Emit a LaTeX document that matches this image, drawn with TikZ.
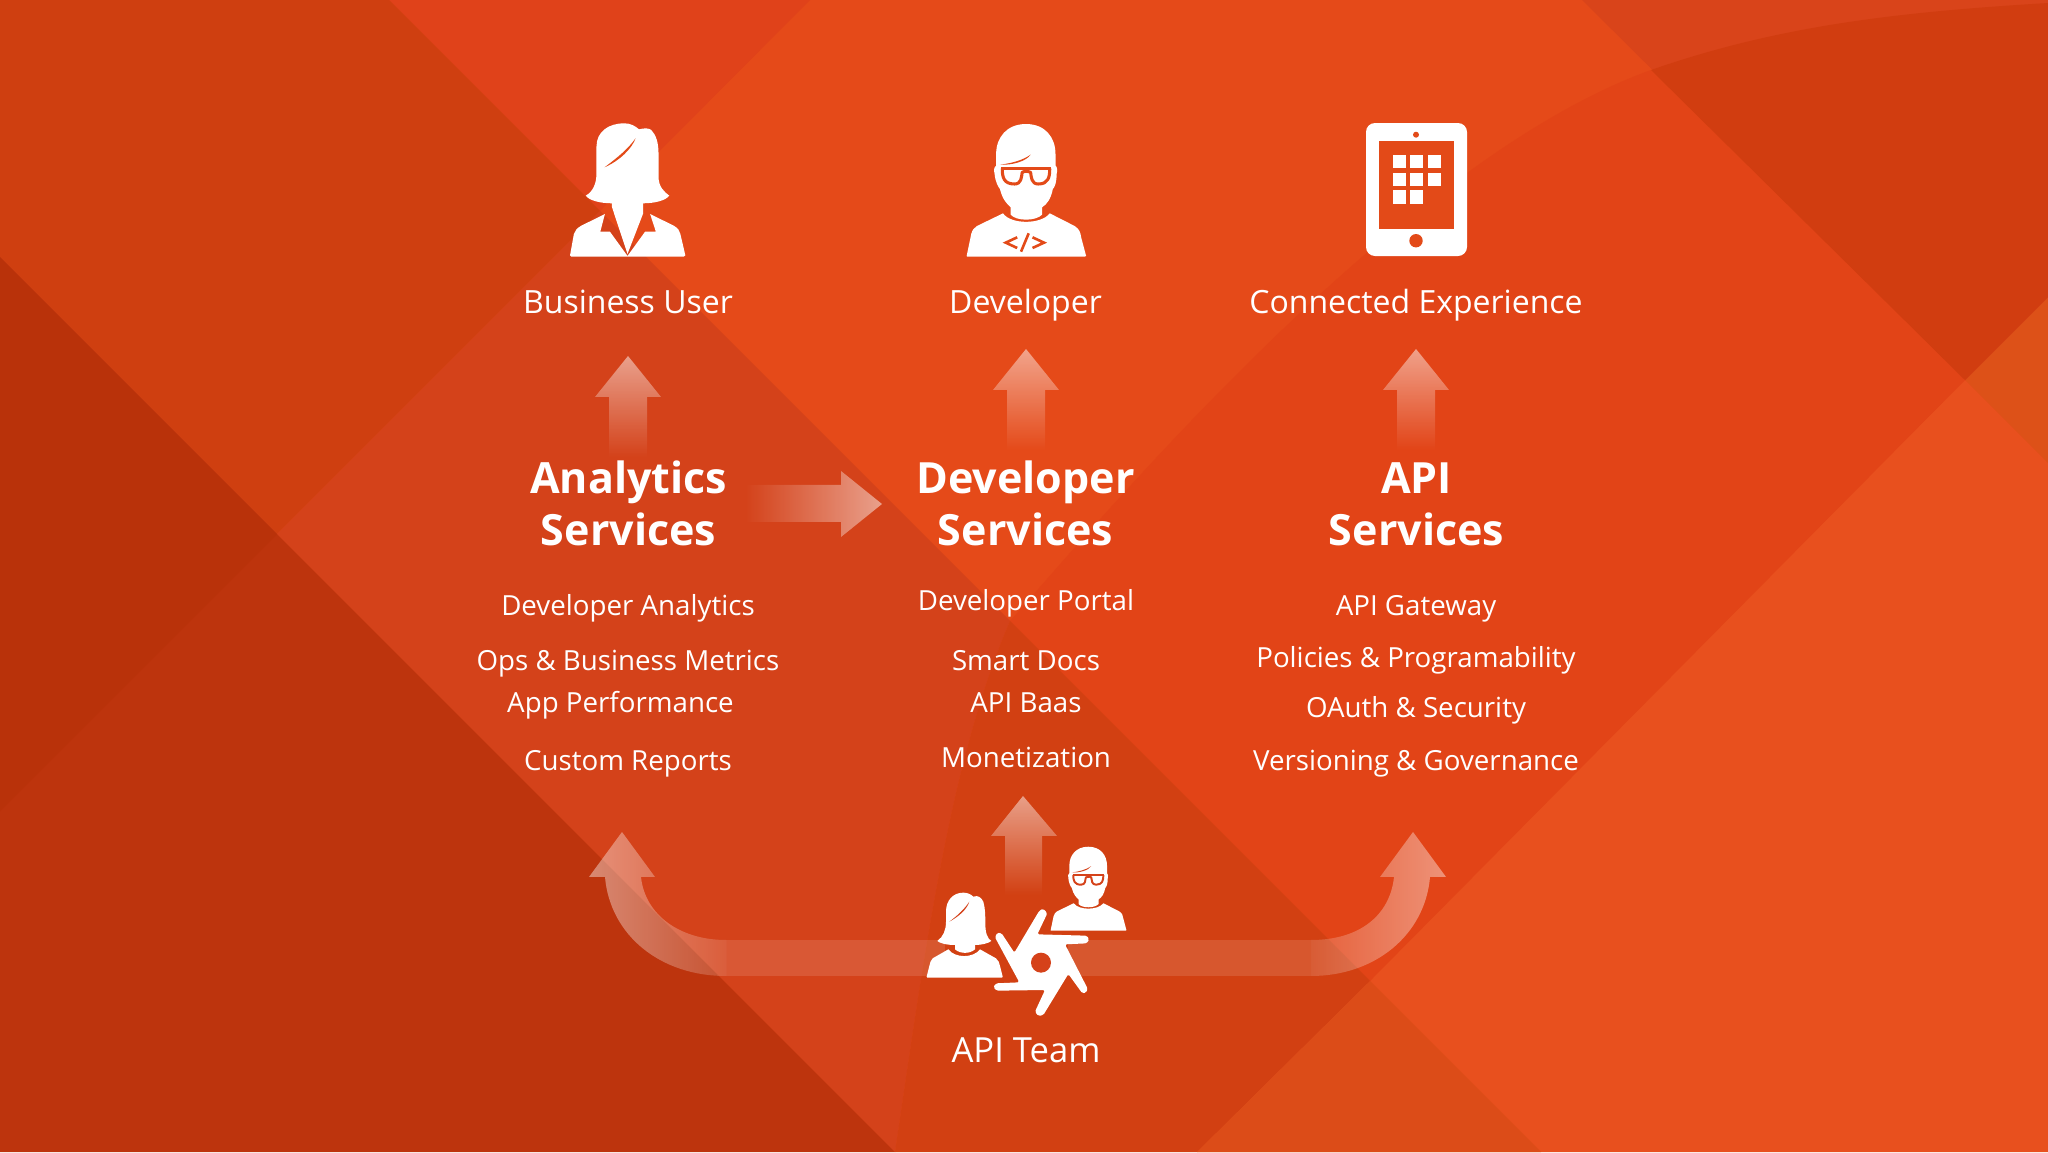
\documentclass[tikz,border=0pt]{standalone}
\usepackage{fontspec}
\setmainfont{Open Sans}
\usetikzlibrary{fadings}
\tikzfading[name=fadeUp, bottom color=transparent!100, top color=transparent!50]
\tikzfading[name=fadeRight, left color=transparent!100, right color=transparent!50]
\tikzfading[name=curveL, left color=transparent!58, right color=transparent!85]
\tikzfading[name=curveR, left color=transparent!85, right color=transparent!58]
\definecolor{baseO}{HTML}{E54A19}
\definecolor{baseL}{HTML}{E8501E}
\definecolor{iconO}{HTML}{E34A18}
\definecolor{iconD}{HTML}{D5421A}
\definecolor{bgA}{HTML}{E0421A}
\definecolor{bgB}{HTML}{E24417}
\definecolor{bgC}{HTML}{CF3F10}
\definecolor{bgD}{HTML}{D4421A}
\definecolor{bgE}{HTML}{BD340D}
\definecolor{bgK}{HTML}{B9320A}
\definecolor{bgF}{HTML}{D24012}
\definecolor{bgG}{HTML}{DC4C18}
\definecolor{bgH}{HTML}{DD5118}
\definecolor{bgI}{HTML}{D9441A}
\definecolor{bgJ}{HTML}{D13D10}
\tikzset{
  bgp/.style={fill=#1,draw=none},
  lbl/.style={text=white,anchor=base,font=\fontsize{32}{38}\selectfont,inner sep=0pt},
  item/.style={text=white,anchor=base,font=\fontsize{27.7}{33}\selectfont,inner sep=0pt},
  ttl/.style={text=white,anchor=base,font=\fontsize{43}{50}\selectfont\bfseries,inner sep=0pt},
  arr/.style={fill=white,draw=none,path fading=#1},
  band/.style={fill=white,fill opacity=.12,draw=none},
}
% upward arrow: #1 centre x, #2 tip y
\newcommand{\uparr}[2]{\fill[arr=fadeUp] (#1,#2) -- (#1+33,#2+41) -- (#1+19,#2+41) -- (#1+19,#2+101) -- (#1-19,#2+101) -- (#1-19,#2+41) -- (#1-33,#2+41) -- cycle;}
% man head + body. #1,#2 origin (top centre); #3 xscale, #4 yscale, #5 cut colour
\newcommand{\manicon}[5]{%
\begin{scope}[shift={(#1,#2)},x=#3pt,y=-#4pt]
 \fill[white] (-60,268) .. controls (-40,302) and (40,302) .. (62,268) -- (127,306) .. controls (140,316) and (142,325) .. (144,340) -- (157,396) .. controls (157,398) and (155,398) .. (153,398) -- (-153,398) .. controls (-155,398) and (-155,396) .. (-155,396) -- (-143,330) .. controls (-140,316) and (-135,312) .. (-128,306) -- cycle;
 \fill[white] (0,0) .. controls (-50,0) and (-78,40) .. (-78,90) -- (-78,125) .. controls (-84,128) and (-84,140) .. (-82,150) .. controls (-80,175) and (-72,190) .. (-68,195) .. controls (-62,225) and (-50,240) .. (-40,250) -- (-40,272) .. controls (-25,292) and (25,292) .. (42,272) -- (42,250) .. controls (55,240) and (65,225) .. (70,195) .. controls (75,190) and (80,175) .. (80,150) .. controls (82,140) and (82,128) .. (77,125) -- (77,90) .. controls (77,40) and (50,0) .. (0,0) -- cycle;
 \fill[#5] (-68,122) .. controls (-40,118) and (-10,110) .. (12,92) .. controls (0,112) and (-35,124) .. (-68,122) -- cycle;
 \draw[#5,line width=#3*9pt,line join=round] (-65,134) -- (65,134);
 \draw[#5,line width=#3*8pt,line join=round] (-62,134) .. controls (-62,160) and (-58,180) .. (-30,180) .. controls (-12,180) and (-12,160) .. (-10,145) .. controls (0,137) and (10,145) .. (12,145) .. controls (14,160) and (14,180) .. (32,180) .. controls (58,180) and (62,160) .. (62,134);
\end{scope}}
% big woman
\newcommand{\bigwoman}[2]{%
\begin{scope}[shift={(#1,#2)},x=.383pt,y=-.3333pt]
 \fill[white] (-41,250) -- (-41,240) .. controls (-70,240) and (-100,232) .. (-109,217) .. controls (-90,205) and (-81,180) .. (-81,150) -- (-81,70) .. controls (-81,25) and (-50,0) .. (-8,0) .. controls (8,0) and (20,8) .. (30,18) .. controls (45,14) and (55,14) .. (62,20) .. controls (75,35) and (81,60) .. (81,90) -- (81,160) .. controls (81,190) and (95,205) .. (109,217) .. controls (100,232) and (70,240) .. (41,240) -- (41,270) -- (0,392) -- cycle;
 \fill[iconO] (21,45) .. controls (12,75) and (-20,112) .. (-60,132) .. controls (-25,102) and (3,75) .. (21,45) -- cycle;
 \fill[white] (-59,272) -- (-71,325) -- (-46,325) -- (0,398) -- (46,325) -- (74,325) -- (59,272) -- (122,308) .. controls (132,315) and (136,322) .. (138,332) -- (151,396) .. controls (151,399) and (149,400) .. (147,400) -- (-147,400) .. controls (-149,400) and (-150,399) .. (-150,396) -- (-140,332) .. controls (-137,322) and (-132,315) .. (-122,308) -- cycle;
\end{scope}}
% small woman in zoom units, origin (880,780)
\newcommand{\smallwoman}{%
\begin{scope}[shift={(880,780)},x=.3333pt,y=-.3333pt]
 \fill[white] (205,508) .. controls (225,535) and (280,535) .. (300,508) -- (348,535) .. controls (356,542) and (358,548) .. (360,558) -- (368,590) -- (366,593) -- (142,593) -- (140,590) -- (148,558) .. controls (150,548) and (152,542) .. (158,535) -- cycle;
 \fill[white] (225,495) .. controls (200,495) and (180,490) .. (172,483) .. controls (190,470) and (198,450) .. (198,425) -- (198,395) .. controls (198,360) and (220,338) .. (250,338) .. controls (262,338) and (272,342) .. (280,350) .. controls (295,345) and (303,352) .. (310,365) .. controls (316,385) and (316,410) .. (316,430) .. controls (316,460) and (322,475) .. (334,483) .. controls (325,490) and (305,495) .. (285,495) -- (285,508) .. controls (270,522) and (240,522) .. (225,508) -- cycle;
 \fill[iconD] (268,365) .. controls (260,390) and (235,410) .. (208,425) .. controls (235,405) and (255,385) .. (268,365) -- cycle;
\end{scope}}
\begin{document}
\begin{tikzpicture}[x=1pt,y=-1pt]
\useasboundingbox (0,0) rectangle (2048,1152);
% ---------- background
\fill[bgp=baseO] (0,0) rectangle (2048,1152);
\fill[bgp=baseL] (2048,463) -- (1965,380) -- (1197,1152) -- (2048,1152) -- cycle;
% top triangle
\fill[bgp=bgA] (389,0) -- (810,0) -- (600,211) -- cycle;
% right-centre region
\fill[bgp=bgB] (1651,70) .. controls (1400,160) and (1100,520) .. (1010,621) -- (1370,981) -- (1965,380) -- cycle;
% left band
\fill[bgp=bgC] (0,0) -- (389,0) -- (600,211) -- (0,811) -- cycle;
\fill[bgp=bgD] (600,211) -- (1010,621) .. controls (950,760) and (925,950) .. (895,1152) -- (0,257) -- (0,811) -- cycle;
% bottom-left dark
\fill[bgp=bgE] (0,257) -- (895,1152) -- (0,1152) -- cycle;
\fill[bgp=bgK] (0,257) -- (277,534) -- (0,811) -- cycle;
% centre dark
\fill[bgp=bgF] (1010,621) -- (1370,981) -- (1197,1152) -- (895,1152) .. controls (925,950) and (950,760) .. (1010,621) -- cycle;
% lower right facets
\fill[bgp=bgG] (1197,1152) -- (1370,981) -- (1541,1152) -- cycle;
\fill[bgp=bgH] (1965,380) -- (2048,297) -- (2048,463) -- cycle;
% top right
\fill[bgp=bgI] (1582,0) -- (2048,0) -- (2048,297) -- (1965,380) -- cycle;
\fill[bgp=bgJ] (1651,70) .. controls (1780,25) and (1900,12) .. (2048,3) -- (2048,297) -- (1965,380) -- cycle;
% ---------- arrows
\uparr{628}{356}
\uparr{1026}{349}
\uparr{1416}{349}
\fill[arr=fadeUp] (1023,796) -- (1057,836) -- (1042,836) -- (1042,895) -- (1005,895) -- (1005,836) -- (991,836) -- cycle;
\fill[arr=fadeRight] (882,504) -- (841,537) -- (841,522) -- (745,522) -- (745,485) -- (841,485) -- (841,471) -- cycle;
% curved left
\fill[arr=curveL] (622,832) -- (655,877) -- (641,877) .. controls (645,915) and (680,940) .. (726,940) -- (726,976) .. controls (660,976) and (610,935) .. (605,877) -- (589,877) -- cycle;
\fill[band] (726,940) rectangle (945,976);
% curved right
\fill[arr=curveR] (1413,832) -- (1446,877) -- (1430,877) .. controls (1425,935) and (1375,976) .. (1311,976) -- (1311,940) .. controls (1360,940) and (1390,915) .. (1394,877) -- (1380,877) -- cycle;
\fill[band] (1068,940) rectangle (1311,976);
% ---------- icons
\bigwoman{627.5}{123.3}
\manicon{1026}{124}{.383}{.3333}{iconO}
% tablet
\fill[white,rounded corners=9pt] (1366,123) rectangle (1467,256);
\fill[iconO] (1379,141.3) rectangle (1454,229.3);
\fill[iconO] (1416,134.7) circle (3);
\fill[iconO] (1416,240.7) circle (6.7);
\foreach \gx/\gy in {1392.5/155,1410/155,1427.7/155,1392.5/172.7,1410/172.7,1427.7/172.7,1392.5/190.3,1410/190.3}
  \fill[white] (\gx,\gy) rectangle ++(13.3,13.3);
% code symbol
\begin{scope}[shift={(1026,124)},x=.383pt,y=-.3333pt]
\draw[iconO,line width=2.6pt] (-23,340) -- (-53,356) -- (-23,372);
\draw[iconO,line width=2.6pt] (7,328) -- (-13,383);
\draw[iconO,line width=2.6pt] (17,340) -- (47,356) -- (17,372);
\end{scope}
% team icons
\smallwoman
\manicon{1088.3}{846.7}{.243}{.211}{iconD}
\begin{scope}[shift={(980,900)},x=.3333pt,y=-.3333pt]
 \fill[white,rounded corners=1.5pt] (103,158) -- (178,32) -- (190,26) -- (202,40) -- (172,103) -- (320,107) -- (328,118) -- (320,130) -- (255,133) -- (323,266) -- (318,278) -- (307,280) -- (265,222) -- (190,345) -- (175,348) -- (165,335) -- (195,270) -- (50,272) -- (40,262) -- (48,250) -- (118,247) -- (45,112) -- (52,98) -- (65,100) -- cycle;
 \fill[iconD] (183,188) circle (30);
\end{scope}
% ---------- labels
\node[lbl] (bu) at (628,313) {Business User};
\node[lbl] (dv) at (1025.5,313) {Developer};
\node[lbl] (ce) at (1416,313) {Connected Experience};
\node[lbl,font=\fontsize{34.6}{40}\selectfont] (team) at (1026,1062) {API Team};
\node[ttl] (an1) at (628.5,493.5) {Analytics};
\node[ttl] (an2) at (628.5,545) {Services};
\node[ttl] (de1) at (1025.5,493.5) {Developer};
\node[ttl] (de2) at (1025.5,545) {Services};
\node[ttl] (ap1) at (1416.5,493.5) {API};
\node[ttl] (ap2) at (1416.5,545) {Services};
\node[item] (a1) at (628,615) {Developer Analytics};
\node[item] (a2) at (628,670) {Ops \& Business Metrics};
\node[item] (a3) at (620.5,712) {App Performance};
\node[item] (a4) at (628,770) {Custom Reports};
\node[item] (d1) at (1026,610) {Developer Portal};
\node[item] (d2) at (1026,670) {Smart Docs};
\node[item] (d3) at (1026,712) {API Baas};
\node[item] (d4) at (1026,767) {Monetization};
\node[item] (p1) at (1416,615) {API Gateway};
\node[item] (p2) at (1416,667) {Policies \& Programability};
\node[item] (p3) at (1416,717) {OAuth \& Security};
\node[item] (p4) at (1416,770) {Versioning \& Governance};
\end{tikzpicture}
\end{document}
